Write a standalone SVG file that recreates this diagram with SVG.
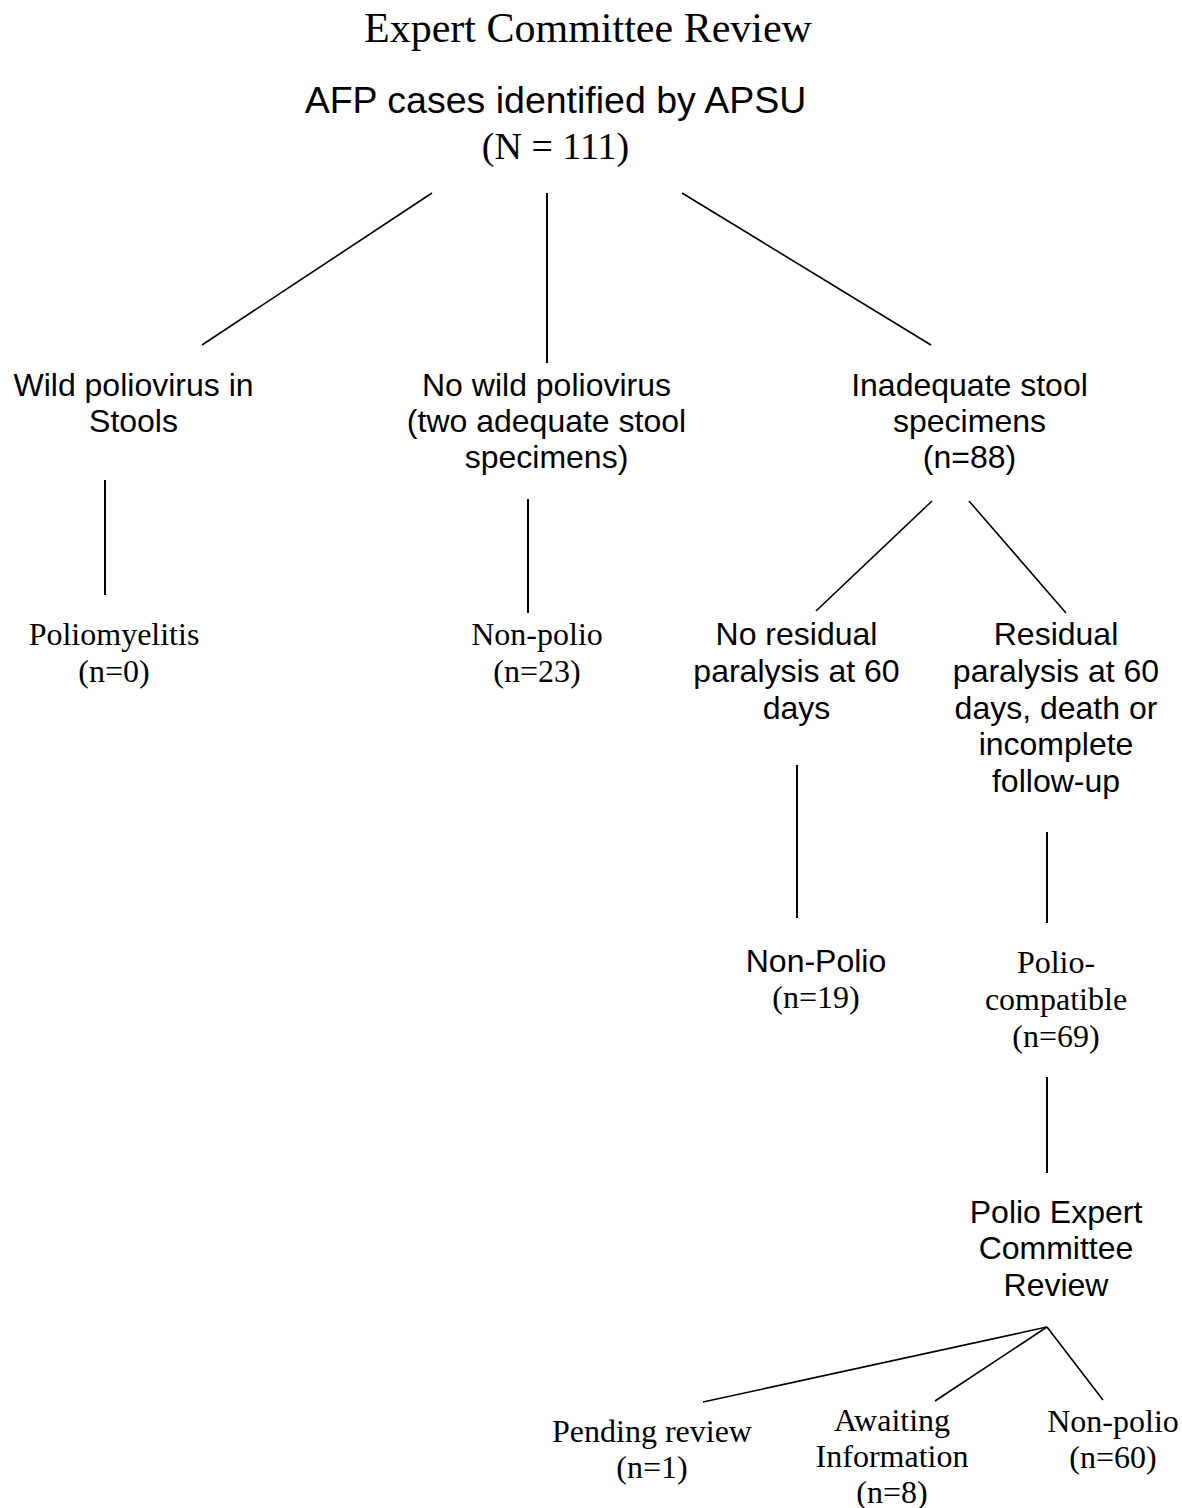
<svg xmlns="http://www.w3.org/2000/svg" width="1182" height="1508" viewBox="0 0 1182 1508">
<style>
.sans{font-family:"Liberation Sans",Arial,sans-serif;font-size:32px;fill:#000;text-anchor:middle}
.serif{font-family:"Liberation Serif","Times New Roman",serif;font-size:32px;fill:#000;text-anchor:middle}
.v{stroke:#000;stroke-width:2;fill:none}
.d{stroke:#000;stroke-width:1.6;fill:none}
</style>
<rect width="1182" height="1508" fill="#fff"/>
<g id="title"><text class="serif" x="588" y="42" style="font-size:42px">Expert Committee Review</text></g>
<g id="root">
<text class="sans" x="555.5" y="113" style="font-size:37.5px">AFP cases identified by APSU</text>
<text class="serif" x="555.5" y="159" style="font-size:38px">(N = 111)</text>
</g>
<g id="wild">
<text class="sans" x="133.5" y="396">Wild poliovirus in</text>
<text class="sans" x="133.5" y="432">Stools</text>
</g>
<g id="nowild">
<text class="sans" x="546.5" y="396">No wild poliovirus</text>
<text class="sans" x="546.5" y="432">(two adequate stool</text>
<text class="sans" x="546.5" y="468">specimens)</text>
</g>
<g id="inadequate">
<text class="sans" x="969.5" y="396">Inadequate stool</text>
<text class="sans" x="969.5" y="432">specimens</text>
<text class="sans" x="969.5" y="468">(n=88)</text>
</g>
<g id="polio">
<text class="serif" x="114" y="645">Poliomyelitis</text>
<text class="serif" x="114" y="681.5">(n=0)</text>
</g>
<g id="nonpolio23">
<text class="serif" x="537" y="645">Non-polio</text>
<text class="serif" x="537" y="681.5">(n=23)</text>
</g>
<g id="noresidual">
<text class="sans" x="796.5" y="645">No residual</text>
<text class="sans" x="796.5" y="681.8">paralysis at 60</text>
<text class="sans" x="796.5" y="718.6">days</text>
</g>
<g id="residual">
<text class="sans" x="1056" y="645">Residual</text>
<text class="sans" x="1056" y="681.8">paralysis at 60</text>
<text class="sans" x="1056" y="718.6">days, death or</text>
<text class="sans" x="1056" y="755.4">incomplete</text>
<text class="sans" x="1056" y="792.2">follow-up</text>
</g>
<g id="nonpolio19">
<text class="sans" x="816" y="972">Non-Polio</text>
<text class="serif" x="816" y="1008">(n=19)</text>
</g>
<g id="compatible">
<text class="serif" x="1056" y="973">Polio-</text>
<text class="serif" x="1056" y="1010">compatible</text>
<text class="serif" x="1056" y="1047">(n=69)</text>
</g>
<g id="committee">
<text class="sans" x="1056" y="1223">Polio Expert</text>
<text class="sans" x="1056" y="1259">Committee</text>
<text class="sans" x="1056" y="1296">Review</text>
</g>
<g id="pending">
<text class="serif" x="652" y="1442">Pending review</text>
<text class="serif" x="652" y="1478">(n=1)</text>
</g>
<g id="awaiting">
<text class="serif" x="892" y="1431">Awaiting</text>
<text class="serif" x="892" y="1467">Information</text>
<text class="serif" x="892" y="1503">(n=8)</text>
</g>
<g id="nonpolio60">
<text class="serif" x="1113" y="1432">Non-polio</text>
<text class="serif" x="1113" y="1468">(n=60)</text>
</g>
<g id="connectors">
<line class="d" x1="432" y1="193" x2="202" y2="345"/>
<line class="v" x1="547" y1="193" x2="547" y2="363"/>
<line class="d" x1="682" y1="193" x2="931" y2="345"/>
<line class="v" x1="105" y1="480" x2="105" y2="595"/>
<line class="v" x1="528" y1="499" x2="528" y2="613"/>
<line class="d" x1="932" y1="501" x2="816" y2="611"/>
<line class="d" x1="969" y1="501" x2="1066" y2="613"/>
<line class="v" x1="797" y1="765" x2="797" y2="918"/>
<line class="v" x1="1047" y1="832" x2="1047" y2="923"/>
<line class="v" x1="1047" y1="1077" x2="1047" y2="1173"/>
<line class="d" x1="1047" y1="1327" x2="703" y2="1402"/>
<line class="d" x1="1047" y1="1327" x2="935" y2="1401"/>
<line class="d" x1="1047" y1="1327" x2="1103" y2="1400"/>
</g>
</svg>
